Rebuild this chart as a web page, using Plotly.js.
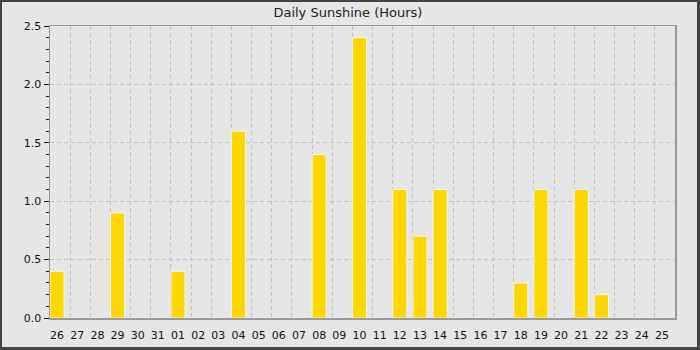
<!DOCTYPE html>
<html><head><meta charset="utf-8">
<script src="https://cdn.plot.ly/plotly-3.0.1.min.js"></script>
<style>
html,body{margin:0;padding:0;background:#e6e6e6;}
#wrap{position:relative;width:700px;height:350px;}
#chart{position:absolute;left:0;top:0;width:700px;height:350px;}
#frame{position:absolute;left:0;top:0;width:700px;height:350px;box-sizing:border-box;border:2px solid #444;border-right-width:3px;border-bottom-width:3px;pointer-events:none;}
</style></head>
<body><div id="wrap"><div id="chart"></div><div id="frame"></div></div>
<script>
const dayLabels = ["26","27","28","29","30","31","01","02","03","04","05","06","07","08","09","10","11","12","13","14","15","16","17","18","19","20","21","22","23","24","25"];
const sunshineHours = [0.4,0,0,0.9,0,0,0.4,0,0,1.6,0,0,0,1.4,0,2.4,0,1.1,0.7,1.1,0,0,0,0.3,1.1,0,1.1,0.2,0,0,0];

const barWidth = 0.7;
const xs = dayLabels.map((d,i)=> i + barWidth/2);

const trace = {
  type:'bar', x: xs, y: sunshineHours, width: barWidth,
  marker:{color:'#FFD700', line:{color:'#eef6ff', width:1}},
  hoverinfo:'skip'
};
const layout = {
  width:700, height:350,
  margin:{l:50, r:25, t:26, b:32},
  paper_bgcolor:'#e6e6e6', plot_bgcolor:'#e6e6e6',
  showlegend:false,
  bargap:0,
  title:{text:'Daily Sunshine (Hours)', x:0.497, xref:'container', xanchor:'center', y:0.965, yref:'container', yanchor:'middle',
    font:{family:'DejaVu Sans', size:13, color:'#222'}},
  xaxis:{range:[0, dayLabels.length], tickmode:'array', tickvals: xs, ticktext: dayLabels,
    showgrid:false, zeroline:false, showline:true, mirror:true, linecolor:'#999', linewidth:1.5,
    ticks:'outside', ticklen:6, tickcolor:'rgba(0,0,0,0)',
    tickfont:{family:'DejaVu Sans', size:11, color:'#111'},
    minor:{tickmode:'linear', tick0:0, dtick:1, showgrid:true, gridcolor:'#c0c0c0', griddash:'4px,3px', gridwidth:1, ticks:''}
  },
  yaxis:{range:[0,2.5], dtick:0.5, tick0:0, tickformat:'.1f',
    showgrid:true, gridcolor:'#c0c0c0', griddash:'4px,3px', gridwidth:1,
    zeroline:false, showline:true, mirror:true, linecolor:'#999', linewidth:1.5,
    ticks:'outside', ticklen:5, tickwidth:1, tickcolor:'#111',
    tickfont:{family:'DejaVu Sans', size:11, color:'#111'},
    minor:{dtick:0.1, tick0:0, ticks:'outside', ticklen:3, tickwidth:1, tickcolor:'#111', showgrid:false}
  }
};
Plotly.newPlot('chart',[trace],layout,{staticPlot:true, displayModeBar:false});
</script></body></html>
